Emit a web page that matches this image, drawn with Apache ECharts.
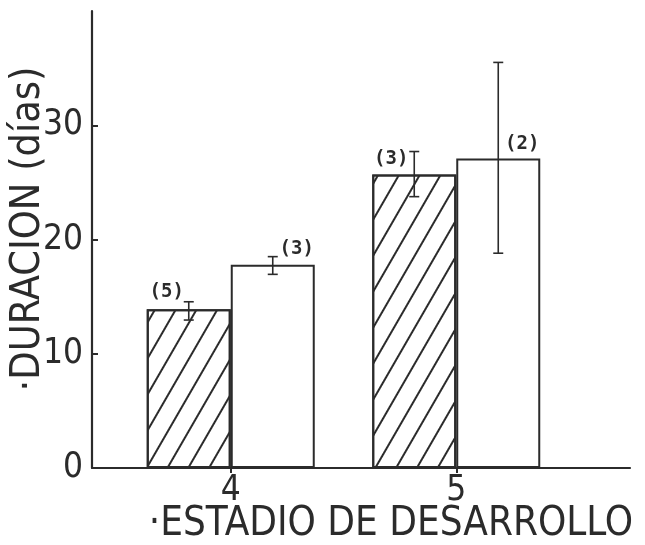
<!DOCTYPE html>
<html>
<head>
<meta charset="utf-8">
<title>Duración por estadio de desarrollo</title>
<script src="https://cdn.jsdelivr.net/npm/echarts@6/dist/echarts.min.js"></script>
<style>
  html, body { margin: 0; padding: 0; background: #fff; }
  #chart { width: 645px; height: 545px; }
</style>
</head>
<body>
<div id="chart"></div>
<script>
// Developmental stages on the x axis
const stages = ['4', '5'];

// Hatched bars: mean duration (days) with lower / upper error limits
const hatchedMean = [13.9, 25.7];
const hatchedLow = [12.95, 23.75];
const hatchedHigh = [14.55, 27.7];
const hatchedN = [5, 3];

// Open bars: mean duration (days) with lower / upper error limits
const openMean = [17.8, 27.1];
const openLow = [16.95, 18.8];
const openHigh = [18.5, 35.5];
const openN = [3, 2];

// Y axis ticks and labels
const yTicks = [0, 10, 20, 30];

const INK = '#2b2b2b';
const NARROW = '"DejaVu Sans Condensed", "Liberation Sans Narrow", "DejaVu Sans", sans-serif';
const BAR_W = 84;

const chart = echarts.init(document.getElementById('chart'), null, { renderer: 'canvas' });

function labelled(values, counts, offsets) {
  return values.map((v, i) => ({
    value: v,
    label: { formatter: '(' + counts[i] + ')', offset: offsets[i] }
  }));
}

function errorData(low, high) {
  return stages.map((s, i) => [i, low[i], high[i]]);
}

function errorRenderer(side) {
  return function (params, api) {
    const lo = api.coord([api.value(0), api.value(1)]);
    const hi = api.coord([api.value(0), api.value(2)]);
    const cx = lo[0] + side * BAR_W / 2;
    const cap = 5;
    const style = { stroke: INK, lineWidth: 1.6 };
    return {
      type: 'group',
      children: [
        { type: 'line', shape: { x1: cx, y1: hi[1], x2: cx, y2: lo[1] }, style },
        { type: 'line', shape: { x1: cx - cap, y1: hi[1], x2: cx + cap, y2: hi[1] }, style },
        { type: 'line', shape: { x1: cx - cap, y1: lo[1], x2: cx + cap, y2: lo[1] }, style }
      ]
    };
  };
}

const countLabel = {
  show: true,
  position: 'top',
  color: INK,
  fontFamily: '"DejaVu Sans Mono", monospace',
  fontWeight: 'bold',
  fontSize: 19
};

const option = {
  backgroundColor: '#fff',
  animation: false,
  grid: [
    { left: 92, right: 15, top: 11, bottom: 77 },
    { left: 118, right: 76, top: 11, bottom: 77 }
  ],
  xAxis: [
    {
      gridIndex: 0, type: 'value', min: 0, max: 1,
      axisLine: { show: true, lineStyle: { color: INK, width: 2.2 } },
      axisTick: { show: false }, axisLabel: { show: false }, splitLine: { show: false }
    },
    {
      gridIndex: 1, type: 'category', data: stages,
      axisLine: { show: false },
      axisTick: { show: true, alignWithLabel: true, length: 5, lineStyle: { color: INK, width: 2 } },
      axisLabel: { color: INK, fontFamily: NARROW, fontSize: 35, margin: 5 },
      splitLine: { show: false }
    }
  ],
  yAxis: [
    {
      gridIndex: 0, type: 'value', min: 0, max: 40, interval: 10,
      axisLine: { show: true, lineStyle: { color: INK, width: 2.2 } },
      axisTick: { show: true, inside: true, length: 6, customValues: yTicks, lineStyle: { color: INK, width: 2 } },
      axisLabel: { customValues: yTicks, color: INK, fontFamily: NARROW, fontSize: 35, margin: 9 },
      splitLine: { show: false }
    },
    { gridIndex: 1, type: 'value', min: 0, max: 40, show: false }
  ],
  series: [
    {
      name: 'rayado', type: 'bar', xAxisIndex: 1, yAxisIndex: 1,
      barWidth: BAR_W, barGap: '0%',
      itemStyle: {
        color: '#fff', borderColor: INK, borderWidth: 2,
        decal: {
          symbol: 'rect', symbolSize: 1, color: INK,
          dashArrayX: [1, 0], dashArrayY: [1.5, 16],
          rotation: -Math.PI / 3
        }
      },
      label: countLabel,
      data: labelled(hatchedMean, hatchedN, [[-22, -3], [-23, -1]])
    },
    {
      name: 'abierto', type: 'bar', xAxisIndex: 1, yAxisIndex: 1,
      barWidth: BAR_W, barGap: '0%',
      itemStyle: { color: '#fff', borderColor: INK, borderWidth: 2 },
      label: countLabel,
      data: labelled(openMean, openN, [[24, -1], [24, 0]])
    },
    {
      type: 'custom', xAxisIndex: 1, yAxisIndex: 1, z: 5,
      renderItem: errorRenderer(-1), encode: { x: 0, y: [1, 2] },
      data: errorData(hatchedLow, hatchedHigh)
    },
    {
      type: 'custom', xAxisIndex: 1, yAxisIndex: 1, z: 5,
      renderItem: errorRenderer(1), encode: { x: 0, y: [1, 2] },
      data: errorData(openLow, openHigh)
    }
  ],
  graphic: [
    {
      type: 'text', x: 28, y: 229, rotation: Math.PI / 2,
      style: {
        text: '·DURACION (días)', fill: INK, font: '41px ' + NARROW,
        align: 'center', verticalAlign: 'middle'
      }
    },
    {
      type: 'text', x: 391, y: 525,
      style: {
        text: '·ESTADIO DE DESARROLLO', fill: INK, font: '40px ' + NARROW,
        align: 'center', verticalAlign: 'middle'
      }
    }
  ]
};

chart.setOption(option);
</script>
</body>
</html>
